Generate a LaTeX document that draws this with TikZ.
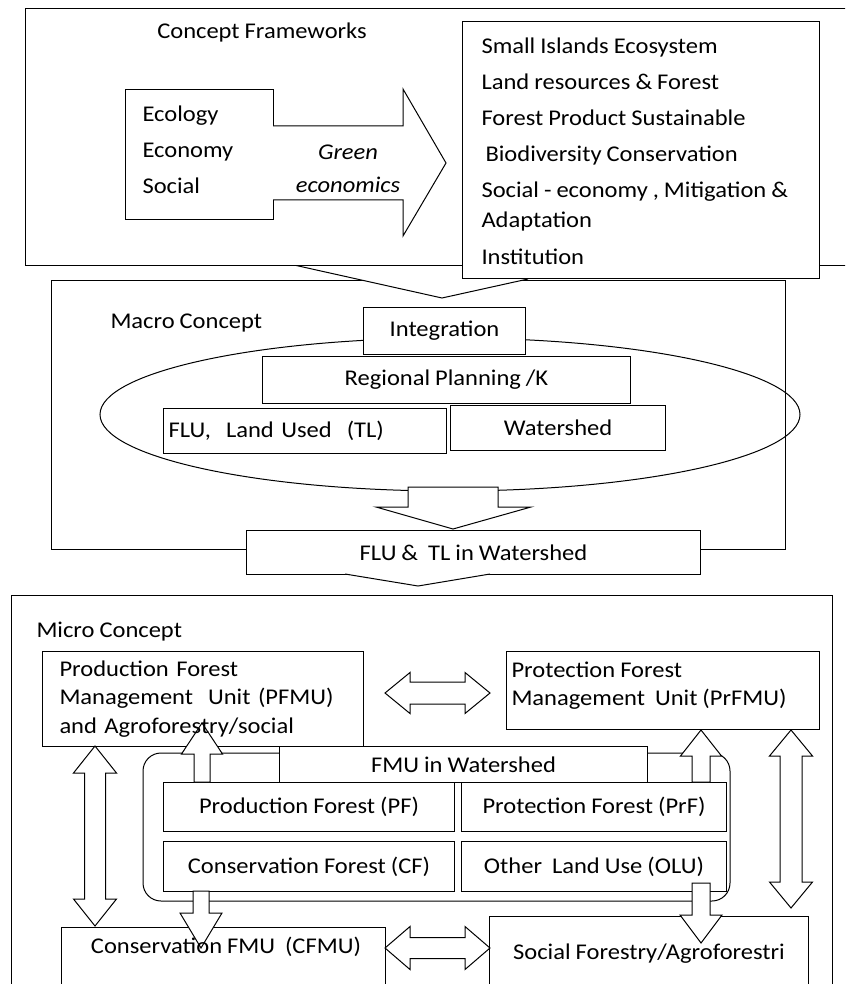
\documentclass[tikz,border=0pt]{standalone}
\usepackage{fontspec}
\setmainfont{Carlito}[FakeStretch=1.09, WordSpace=0.9]

\tikzset{
  box/.style={draw, fill=white, inner sep=0pt, anchor=north west},
  lbl/.style={inner sep=0pt},
  blockarrow/.style={draw, fill=white, line join=miter},
}

\begin{document}
\begin{tikzpicture}[x=1pt, y=-1pt, line width=1pt, font=\fontsize{22.5}{36}\selectfont]
        \useasboundingbox (0,0) rectangle (845,984);
        \clip (0,0) rectangle (845,984);

        % ---macro frame (behind the top part)
        \draw[fill=white] (51,280) rectangle (785,549);
        \fill[white] (294,265) -- (442,298) -- (528,279) -- (528,265) -- cycle;
        \draw (294,265) -- (442,298) -- (528,279);

        % ---concept frameworks
        \draw[fill=white] (25,9) rectangle (870,265);
        \node[lbl] (cftitle) at (262,33) {Concept Frameworks};
        \node[box, minimum width=148, minimum height=130] (ecobox) at (125,89) {};
        \node[lbl, anchor=north west, align=left] (ecotxt) at (142,105) {Ecology\\Economy\\Social};
        \draw[blockarrow] (273,126) -- (403,126) -- (403,89) -- (446,163) -- (403,236) -- (403,200) -- (273,200);
        \node[lbl, font=\fontsize{22.5}{36}\selectfont\itshape] (green) at (348,152) {Green};
        \node[lbl, font=\fontsize{22.5}{36}\selectfont\itshape] (greeneco) at (348,185) {economics};
        \node[box, minimum width=357, minimum height=257] (listbox) at (462,21) {};
        \node[lbl, anchor=north west, align=left, font=\fontsize{22.5}{30}\selectfont] (listtxt) at (481,37) {Small Islands Ecosystem\\[6pt]Land resources \& Forest\\[6pt]Forest Product Sustainable\\[6pt]\hspace{4pt}Biodiversity Conservation\\[6pt]Social - economy , Mitigation \&\\Adaptation\\[7pt]Institution};

        % ---macro concept
        \node[lbl, anchor=west] (macrotitle) at (110,323) {Macro Concept};
        \draw (450,414.5) ellipse [x radius=350, y radius=76.5];
        \node[box, minimum width=162, minimum height=47] (integ) at (363,307) {Integration};
        \node[box, minimum width=368, minimum height=47] (regional) at (262,356) {Regional Planning /K};
        \node[box, minimum width=283, minimum height=45, inner xsep=5, text width=273, align=left] (flutl) at (163,408) {FLU,\ \ Land Used\ \ (TL)};
        \node[box, minimum width=215, minimum height=45] (watershed) at (450,405) {Watershed};
        \draw[blockarrow] (408,487) -- (498,487) -- (498,507) -- (531,507) -- (453,529) -- (376,507) -- (408,507) -- cycle;
        \node[box, minimum width=454, minimum height=44] (flutlws) at (246,530) {FLU \&\ \ TL in Watershed};
        \draw[fill=white] (345,574) -- (418,586) -- (490,574);

        % ---micro concept
        \draw[fill=white] (11,595) rectangle (832,1000);
        \node[lbl, anchor=west] (microtitle) at (36,632) {Micro Concept};
        \draw[rounded corners=18] (143,753) rectangle (730,901);
        \node[box, minimum width=321, minimum height=95] (pfmu) at (42,651) {};
        \node[box, minimum width=313, minimum height=78] (prfmu) at (506,651) {};
        \node[lbl, anchor=north west, align=left, font=\fontsize{22.5}{28.5}\selectfont] (prfmutxt) at (511,661) {Protection Forest\\Management\ \ Unit (PrFMU)};
        \node[box, minimum width=324, minimum height=80] (cfmu) at (61,927) {};
        \node[box, minimum width=319, minimum height=80] (social) at (489,916) {};
        \node[box, minimum width=368, minimum height=36] (fmuws) at (279,746) {FMU in Watershed};
        \node[box, minimum width=291, minimum height=49] (pf) at (163,782) {Production Forest (PF)};
        \node[box, minimum width=265, minimum height=49] (prf) at (461,782) {Protection Forest (PrF)};
        \node[box, minimum width=291, minimum height=50] (cf) at (163,841) {Conservation Forest (CF)};
        \node[box, minimum width=265, minimum height=50] (olu) at (461,841) {Other\ \ Land Use (OLU)};

        % double arrows between the units
        \draw[blockarrow] (385,693) -- (410,672.5) -- (410,682) -- (465,682) -- (465,672.5) -- (490,693) -- (465,713.5) -- (465,704) -- (410,704) -- (410,713.5) -- cycle;
        \draw[blockarrow] (385,948) -- (410,926.5) -- (410,937.5) -- (465,937.5) -- (465,926.5) -- (490,948) -- (465,969.5) -- (465,958.5) -- (410,958.5) -- (410,969.5) -- cycle;
        \draw[blockarrow] (95,746) -- (116.5,773) -- (105.5,773) -- (105.5,899) -- (116.5,899) -- (95,926) -- (73.5,899) -- (84.5,899) -- (84.5,773) -- (73.5,773) -- cycle;
        \draw[blockarrow] (791,730) -- (812.5,756) -- (802,756) -- (802,882) -- (812.5,882) -- (791,908) -- (769.5,882) -- (780,882) -- (780,756) -- (769.5,756) -- cycle;

        % single arrows out of the watershed
        \draw[blockarrow] (202,723) -- (222.5,754) -- (210,754) -- (210,782) -- (194,782) -- (194,754) -- (181.5,754) -- cycle;
        \draw[blockarrow] (701,730) -- (721.5,756) -- (710,756) -- (710,782) -- (692,782) -- (692,756) -- (680.5,756) -- cycle;
        \draw[blockarrow] (193,891) -- (209,891) -- (209,913) -- (222,913) -- (201,948) -- (180,913) -- (193,913) -- cycle;
        \draw[blockarrow] (692,883) -- (710,883) -- (710,915) -- (722,915) -- (701,943) -- (680,915) -- (692,915) -- cycle;

        % texts on top of the arrows
        \node[lbl, anchor=west, text width=300, align=left, font=\fontsize{22.5}{28.5}\selectfont] (pfmutxt) at ([xshift=17]pfmu.west) {Production Forest\\Management\ \ Unit (PFMU)\\and Agroforestry/social};
        \node[lbl] (cfmutxt) at (226,947) {Conservation FMU\ \ (CFMU)};
        \node[lbl] (socialtxt) at (649,954) {Social Forestry/Agroforestri};
\end{tikzpicture}
\end{document}
